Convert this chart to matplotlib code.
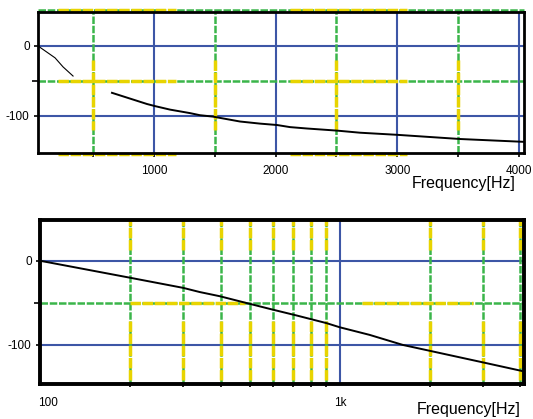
import numpy as np
import matplotlib
matplotlib.use("Agg")
import matplotlib.pyplot as plt
import matplotlib.transforms as mtransforms

plt.rcParams['font.family'] = ['Liberation Sans', 'DejaVu Sans']

# -----DATA-----#
# upper panel: linear frequency axis
lin_freq = [47, 187, 253, 335, np.nan, 655, 943, 1009, 1132, 1296, 1378, 1485,
            1707, 1871, 2011, 2118, 2258, 2504, 2693, 2997, 3515, 4033]
lin_db = [0, -17, -30, -43, np.nan, -67, -83, -86, -91, -96, -99, -101,
          -108, -111, -113, -116, -118, -121, -124, -127, -133, -137]
lin_major_x = [1000, 2000, 3000, 4000]
lin_major_labels = ["1000", "2000", "3000", "4000"]
lin_minor_x = [500, 1500, 2500, 3500]

# lower panel: log frequency axis
log_freq = [101, 200, 300, 341, 398, 475, 598, 719, 902, 1000, 1256, 1622,
            3020, 4048]
log_db = [0, -20, -32, -37, -42, -49, -58, -65, -74, -79, -88, -100,
          -121, -131]
log_major_x = [100, 1000]
log_major_labels = ["100", "1k"]
log_minor_x = [200, 300, 400, 500, 600, 700, 800, 900, 2000, 3000, 4000]

y_major = [0, -100]
y_major_labels = ["0", "-100"]
y_minor = [-50]

# -----STYLE-----#
blue = '#3d56a6'
green = '#3bb54a'
yellow = '#e8d400'
fig = plt.figure(figsize=(5.33, 4.19), dpi=100)

def style_axes(ax, spine_w):
    for s in ax.spines.values():
        s.set_linewidth(spine_w)
        s.set_color('black')
        s.set_zorder(5)
    ax.tick_params(which='both', direction='out', length=3, width=1.2,
                   labelsize=8.5, pad=3)
    ax.tick_params(axis='y', which='minor', length=4)

def green_v(ax, x, y0, y1, **kw):
    ax.plot([x, x], [y0, y1], color=green, lw=1.8, ls=(0, (3, 0.7)),
            zorder=1, **kw)

def yellow_v(ax, x, y0, y1):
    ax.plot([x, x], [y0, y1], color=yellow, lw=2.5, ls=(0, (3, 0.5)),
            zorder=2)

def green_h(ax, y, x0, x1, **kw):
    ax.plot([x0, x1], [y, y], color=green, lw=1.8, ls=(0, (3, 0.7)),
            zorder=1, **kw)

def yellow_h(ax, y, x0, x1, **kw):
    ax.plot([x0, x1], [y, y], color=yellow, lw=2.5, ls=(0, (3, 0.5)),
            zorder=2, **kw)

# -----TOP PANEL-----#
ax1 = fig.add_axes([38 / 533, 1 - 153 / 419, 486 / 533, 141 / 419])
ax1.set_xlim(47, 4041)
ax1.set_ylim(-153, 48.5)
style_axes(ax1, 2.0)

for x in lin_major_x:
    ax1.axvline(x, color=blue, lw=1.5, zorder=1)
for y in y_major:
    ax1.axhline(y, color=blue, lw=1.5, zorder=1)
for x in lin_minor_x:
    green_v(ax1, x, -153, 48.5)
    yellow_v(ax1, x, -20, -120)
green_h(ax1, -50, 47, 4041)
green_h(ax1, 51, 47, 4041, clip_on=False)
for x0, x1 in [(211, 1181), (2118, 3080)]:
    yellow_h(ax1, -50, x0, x1)
    yellow_h(ax1, 51, x0, x1, clip_on=False)
    yellow_h(ax1, -155, x0, x1, clip_on=False)

ax1.plot(lin_freq[:4], lin_db[:4], color='black', lw=0.8, zorder=3)
ax1.plot(lin_freq[5:], lin_db[5:], color='black', lw=1.4, zorder=3)

ax1.set_xticks(lin_major_x)
ax1.set_xticklabels(lin_major_labels)
ax1.set_xticks(lin_minor_x, minor=True)
ax1.set_yticks(y_major)
ax1.set_yticklabels(y_major_labels)
ax1.set_yticks(y_minor, minor=True)
ax1.tick_params(axis='x', pad=6)
fig.text(412 / 533, 1 - 183 / 419, "Frequency[Hz]", fontsize=11.5,
         ha='left', va='center')

# -----BOTTOM PANEL-----#
ax2 = fig.add_axes([40 / 533, 1 - 384 / 419, 484 / 533, 164 / 419])
ax2.set_xscale('log')
ax2.set_xlim(100, 4110)
ax2.set_ylim(-146.5, 48.8)
style_axes(ax2, 2.8)

ax2.axvline(1000, color=blue, lw=1.5, zorder=1)
for y in y_major:
    ax2.axhline(y, color=blue, lw=1.5, zorder=1)
for x in log_minor_x:
    green_v(ax2, x, -146.5, 48.8)
    yellow_v(ax2, x, 13, 48.8)
    yellow_v(ax2, x, -72, -146.5)
green_h(ax2, -50, 100, 4110)
for x0, x1 in [(200, 483), (1185, 2777)]:
    yellow_h(ax2, -50, x0, x1)

ax2.plot(log_freq, log_db, color='black', lw=1.4, zorder=3)

ax2.set_xticks(log_major_x)
ax2.set_xticklabels(log_major_labels)
ax2.set_xticks(log_minor_x, minor=True)
ax2.xaxis.set_minor_formatter(matplotlib.ticker.NullFormatter())
ax2.set_yticks(y_major)
ax2.set_yticklabels(y_major_labels)
ax2.set_yticks(y_minor, minor=True)
ax2.tick_params(axis='x', which='major', length=0, pad=9)
ax2.tick_params(axis='x', which='minor', length=2)
# "100" sits a little right of the axis corner
lbl = ax2.get_xticklabels()[0]
lbl.set_transform(lbl.get_transform() +
                  mtransforms.ScaledTranslation(8 / 100, 0, fig.dpi_scale_trans))
fig.text(417 / 533, 1 - 409 / 419, "Frequency[Hz]", fontsize=11.5,
         ha='left', va='center')

fig.savefig("out.png", dpi=100)
